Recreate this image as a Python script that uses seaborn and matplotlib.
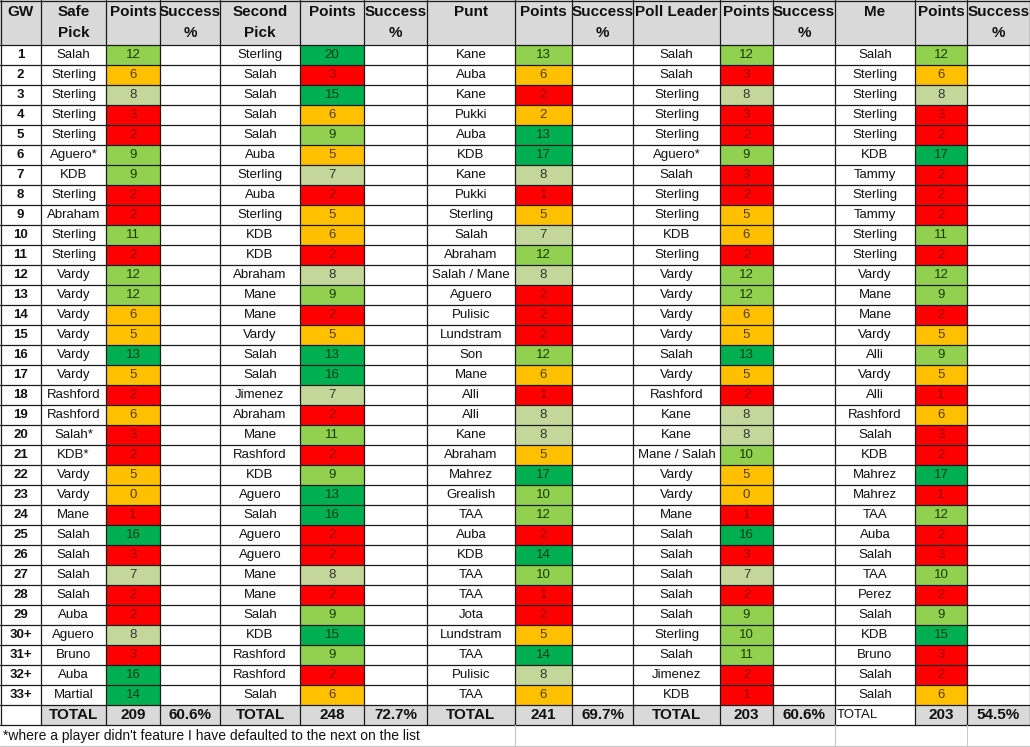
import seaborn as sns
import matplotlib.pyplot as plt
import numpy as np
from matplotlib.colors import ListedColormap, BoundaryNorm

gw = [str(i) for i in range(1, 30)] + ["30+", "31+", "32+", "33+"]

safe_pick = ["Salah", "Sterling", "Sterling", "Sterling", "Sterling", "Aguero*", "KDB", "Sterling", "Abraham", "Sterling",
             "Sterling", "Vardy", "Vardy", "Vardy", "Vardy", "Vardy", "Vardy", "Rashford", "Rashford", "Salah*",
             "KDB*", "Vardy", "Vardy", "Mane", "Salah", "Salah", "Salah", "Salah", "Auba", "Aguero", "Bruno", "Auba", "Martial"]
safe_pts = [12, 6, 8, 3, 2, 9, 9, 2, 2, 11, 2, 12, 12, 6, 5, 13, 5, 2, 6, 3, 2, 5, 0, 1, 16, 3, 7, 2, 2, 8, 3, 16, 14]

second_pick = ["Sterling", "Salah", "Salah", "Salah", "Salah", "Auba", "Sterling", "Auba", "Sterling", "KDB",
               "KDB", "Abraham", "Mane", "Mane", "Vardy", "Salah", "Salah", "Jimenez", "Abraham", "Mane",
               "Rashford", "KDB", "Aguero", "Salah", "Aguero", "Aguero", "Mane", "Mane", "Salah", "KDB", "Rashford", "Rashford", "Salah"]
second_pts = [20, 3, 15, 6, 9, 5, 7, 2, 5, 6, 2, 8, 9, 2, 5, 13, 16, 7, 2, 11, 2, 9, 13, 16, 2, 2, 8, 2, 9, 15, 9, 2, 6]

punt_pick = ["Kane", "Auba", "Kane", "Pukki", "Auba", "KDB", "Kane", "Pukki", "Sterling", "Salah",
             "Abraham", "Salah / Mane", "Aguero", "Pulisic", "Lundstram", "Son", "Mane", "Alli", "Alli", "Kane",
             "Abraham", "Mahrez", "Grealish", "TAA", "Auba", "KDB", "TAA", "TAA", "Jota", "Lundstram", "TAA", "Pulisic", "TAA"]
punt_pts = [13, 6, 2, 2, 13, 17, 8, 1, 5, 7, 12, 8, 2, 2, 2, 12, 6, 1, 8, 8, 5, 17, 10, 12, 2, 14, 10, 1, 2, 5, 14, 8, 6]

poll_pick = ["Salah", "Salah", "Sterling", "Sterling", "Sterling", "Aguero*", "Salah", "Sterling", "Sterling", "KDB",
             "Sterling", "Vardy", "Vardy", "Vardy", "Vardy", "Salah", "Vardy", "Rashford", "Kane", "Kane",
             "Mane / Salah", "Vardy", "Vardy", "Mane", "Salah", "Salah", "Salah", "Salah", "Salah", "Sterling", "Salah", "Jimenez", "KDB"]
poll_pts = [12, 3, 8, 3, 2, 9, 3, 2, 5, 6, 2, 12, 12, 6, 5, 13, 5, 2, 8, 8, 10, 5, 0, 1, 16, 3, 7, 2, 9, 10, 11, 2, 1]

me_pick = ["Salah", "Sterling", "Sterling", "Sterling", "Sterling", "KDB", "Tammy", "Sterling", "Tammy", "Sterling",
           "Sterling", "Vardy", "Mane", "Mane", "Vardy", "Alli", "Vardy", "Alli", "Rashford", "Salah",
           "KDB", "Mahrez", "Mahrez", "TAA", "Auba", "Salah", "TAA", "Perez", "Salah", "KDB", "Bruno", "Salah", "Salah"]
me_pts = [12, 6, 8, 3, 2, 17, 2, 2, 2, 11, 2, 12, 9, 2, 5, 9, 5, 1, 6, 3, 2, 17, 1, 12, 2, 3, 10, 2, 9, 15, 3, 2, 6]

totals = [209, 248, 241, 203, 203]
success = ["60.6%", "72.7%", "69.7%", "60.6%", "54.5%"]
pick_headers = ["Safe\nPick", "Second\nPick", "Punt", "Poll Leader", "Me"]
footnote = "*where a player didn't feature I have defaulted to the next on the list"

# hand-coloured cells in the sheet that don't follow the points bands: (column, row) -> grade
grade_overrides = {(2, 0): 3, (2, 3): 1}

picks = [safe_pick, second_pick, punt_pick, poll_pick, me_pick]
points = [safe_pts, second_pts, punt_pts, poll_pts, me_pts]


def grade(p):
    # 0 red, 1 amber, 2 pale green, 3 green, 4 dark green
    if p == 0 or 5 <= p <= 6:
        return 1
    if p <= 4:
        return 0
    if p <= 8:
        return 2
    if p <= 12:
        return 3
    return 4


edges = [0, 41, 106, 160, 220, 300, 364, 427, 515, 572, 633, 720, 773, 835, 915, 967, 1030]
W, H = 1030, 747
top, rh, nrows = 45, 20, len(gw)
bottom = top + rh * nrows
font = "Liberation Sans"
hdr_bg = "#d9d9d9"
fills = ["#ff0000", "#ffc000", "#c4d79b", "#92d050", "#00b050"]
txt_cols = ["#9c0006", "#5a3a00", "#333333", "#1a3d00", "#0b3d1a"]

sns.set_theme(style="white")
fig = plt.figure(figsize=(10.30, 7.47), dpi=100)
ax = fig.add_axes([0, 0, 1, 1])
ax.set_xlim(0, W)
ax.set_ylim(H, 0)
ax.axis("off")

ax.fill_between([0, W], 0, top, color=hdr_bg, lw=0)
ax.fill_between([edges[1], edges[13]], bottom, bottom + rh, color=hdr_bg, lw=0)
ax.fill_between([edges[14], W], bottom, bottom + rh, color=hdr_bg, lw=0)


def ctext(x0, x1, y, s, bold=False, size=9.5, ha="center"):
    x = (x0 + x1) / 2 if ha == "center" else x0 + 2
    ax.text(x, y, s, ha=ha, va="center", fontsize=size, family=font,
            fontweight="bold" if bold else "normal", color="#111111", zorder=5)


hs = 11
ctext(edges[0], edges[1], 12, "GW", bold=True, size=hs)
for k in range(5):
    c = 1 + 3 * k
    hdr = pick_headers[k]
    if "\n" in hdr:
        a, b = hdr.split("\n")
        ctext(edges[c], edges[c + 1], 12, a, bold=True, size=hs)
        ctext(edges[c], edges[c + 1], 33, b, bold=True, size=hs)
    else:
        ctext(edges[c], edges[c + 1], 12, hdr, bold=True, size=hs)
    ctext(edges[c + 1], edges[c + 2], 12, "Points", bold=True, size=hs)
    ctext(edges[c + 2], edges[c + 3], 12, "Success", bold=True, size=hs)
    ctext(edges[c + 2], edges[c + 3], 33, "%", bold=True, size=hs)

for i, g in enumerate(gw):
    yc = top + rh * (i + 0.5)
    ctext(edges[0], edges[1], yc, g, bold=True)
    for k in range(5):
        c = 1 + 3 * k
        ctext(edges[c], edges[c + 1], yc, picks[k][i])

yt = bottom + rh / 2
for k in range(5):
    c = 1 + 3 * k
    if k == 4:
        ctext(edges[c], edges[c + 1], yt, "TOTAL", size=9.5, ha="left")
    else:
        ctext(edges[c], edges[c + 1], yt, "TOTAL", bold=True, size=hs)
    ctext(edges[c + 1], edges[c + 2], yt, str(totals[k]), bold=True, size=hs)
    ctext(edges[c + 2], edges[c + 3], yt, success[k], bold=True, size=hs)
ax.text(3, 736, footnote, ha="left", va="center", fontsize=10, family=font, color="#111111")

cmap = ListedColormap(fills)
norm = BoundaryNorm(np.arange(-0.5, 5.5, 1), cmap.N)
for k in range(5):
    c = 1 + 3 * k
    x0, x1 = edges[c + 1], edges[c + 2]
    hax = fig.add_axes([x0 / W, 1 - bottom / H, (x1 - x0) / W, (bottom - top) / H])
    grades = np.array([grade_overrides.get((k, i), grade(p)) for i, p in enumerate(points[k])]).reshape(-1, 1)
    sns.heatmap(grades, ax=hax, cmap=cmap, norm=norm, annot=np.array(points[k]).reshape(-1, 1), fmt="d",
                cbar=False, linewidths=0, xticklabels=False, yticklabels=False,
                annot_kws={"fontsize": 9.5, "family": font})
    for t, gr in zip(hax.texts, grades.ravel()):
        t.set_color(txt_cols[gr])

# grid lines on top of everything
gax = fig.add_axes([0, 0, 1, 1])
gax.set_xlim(0, W)
gax.set_ylim(H, 0)
gax.axis("off")
gax.patch.set_alpha(0)
line = "#1a1a1a"
for i in range(nrows + 2):
    gax.plot([0, W], [top + i * rh] * 2, color=line, lw=0.9)
gax.plot([0, W], [0.5, 0.5], color=line, lw=0.9)
for x in edges:
    xx = min(max(x, 0.5), W - 0.5)
    gax.plot([xx, xx], [0, bottom + rh], color=line, lw=0.9)
gax.plot([0, W], [H - 1, H - 1], color="#c8c8c8", lw=0.8)
for x in [515, 835, 967]:
    gax.plot([x, x], [bottom + rh, H], color="#c8c8c8", lw=0.8)

fig.savefig("out.png", dpi=100)
